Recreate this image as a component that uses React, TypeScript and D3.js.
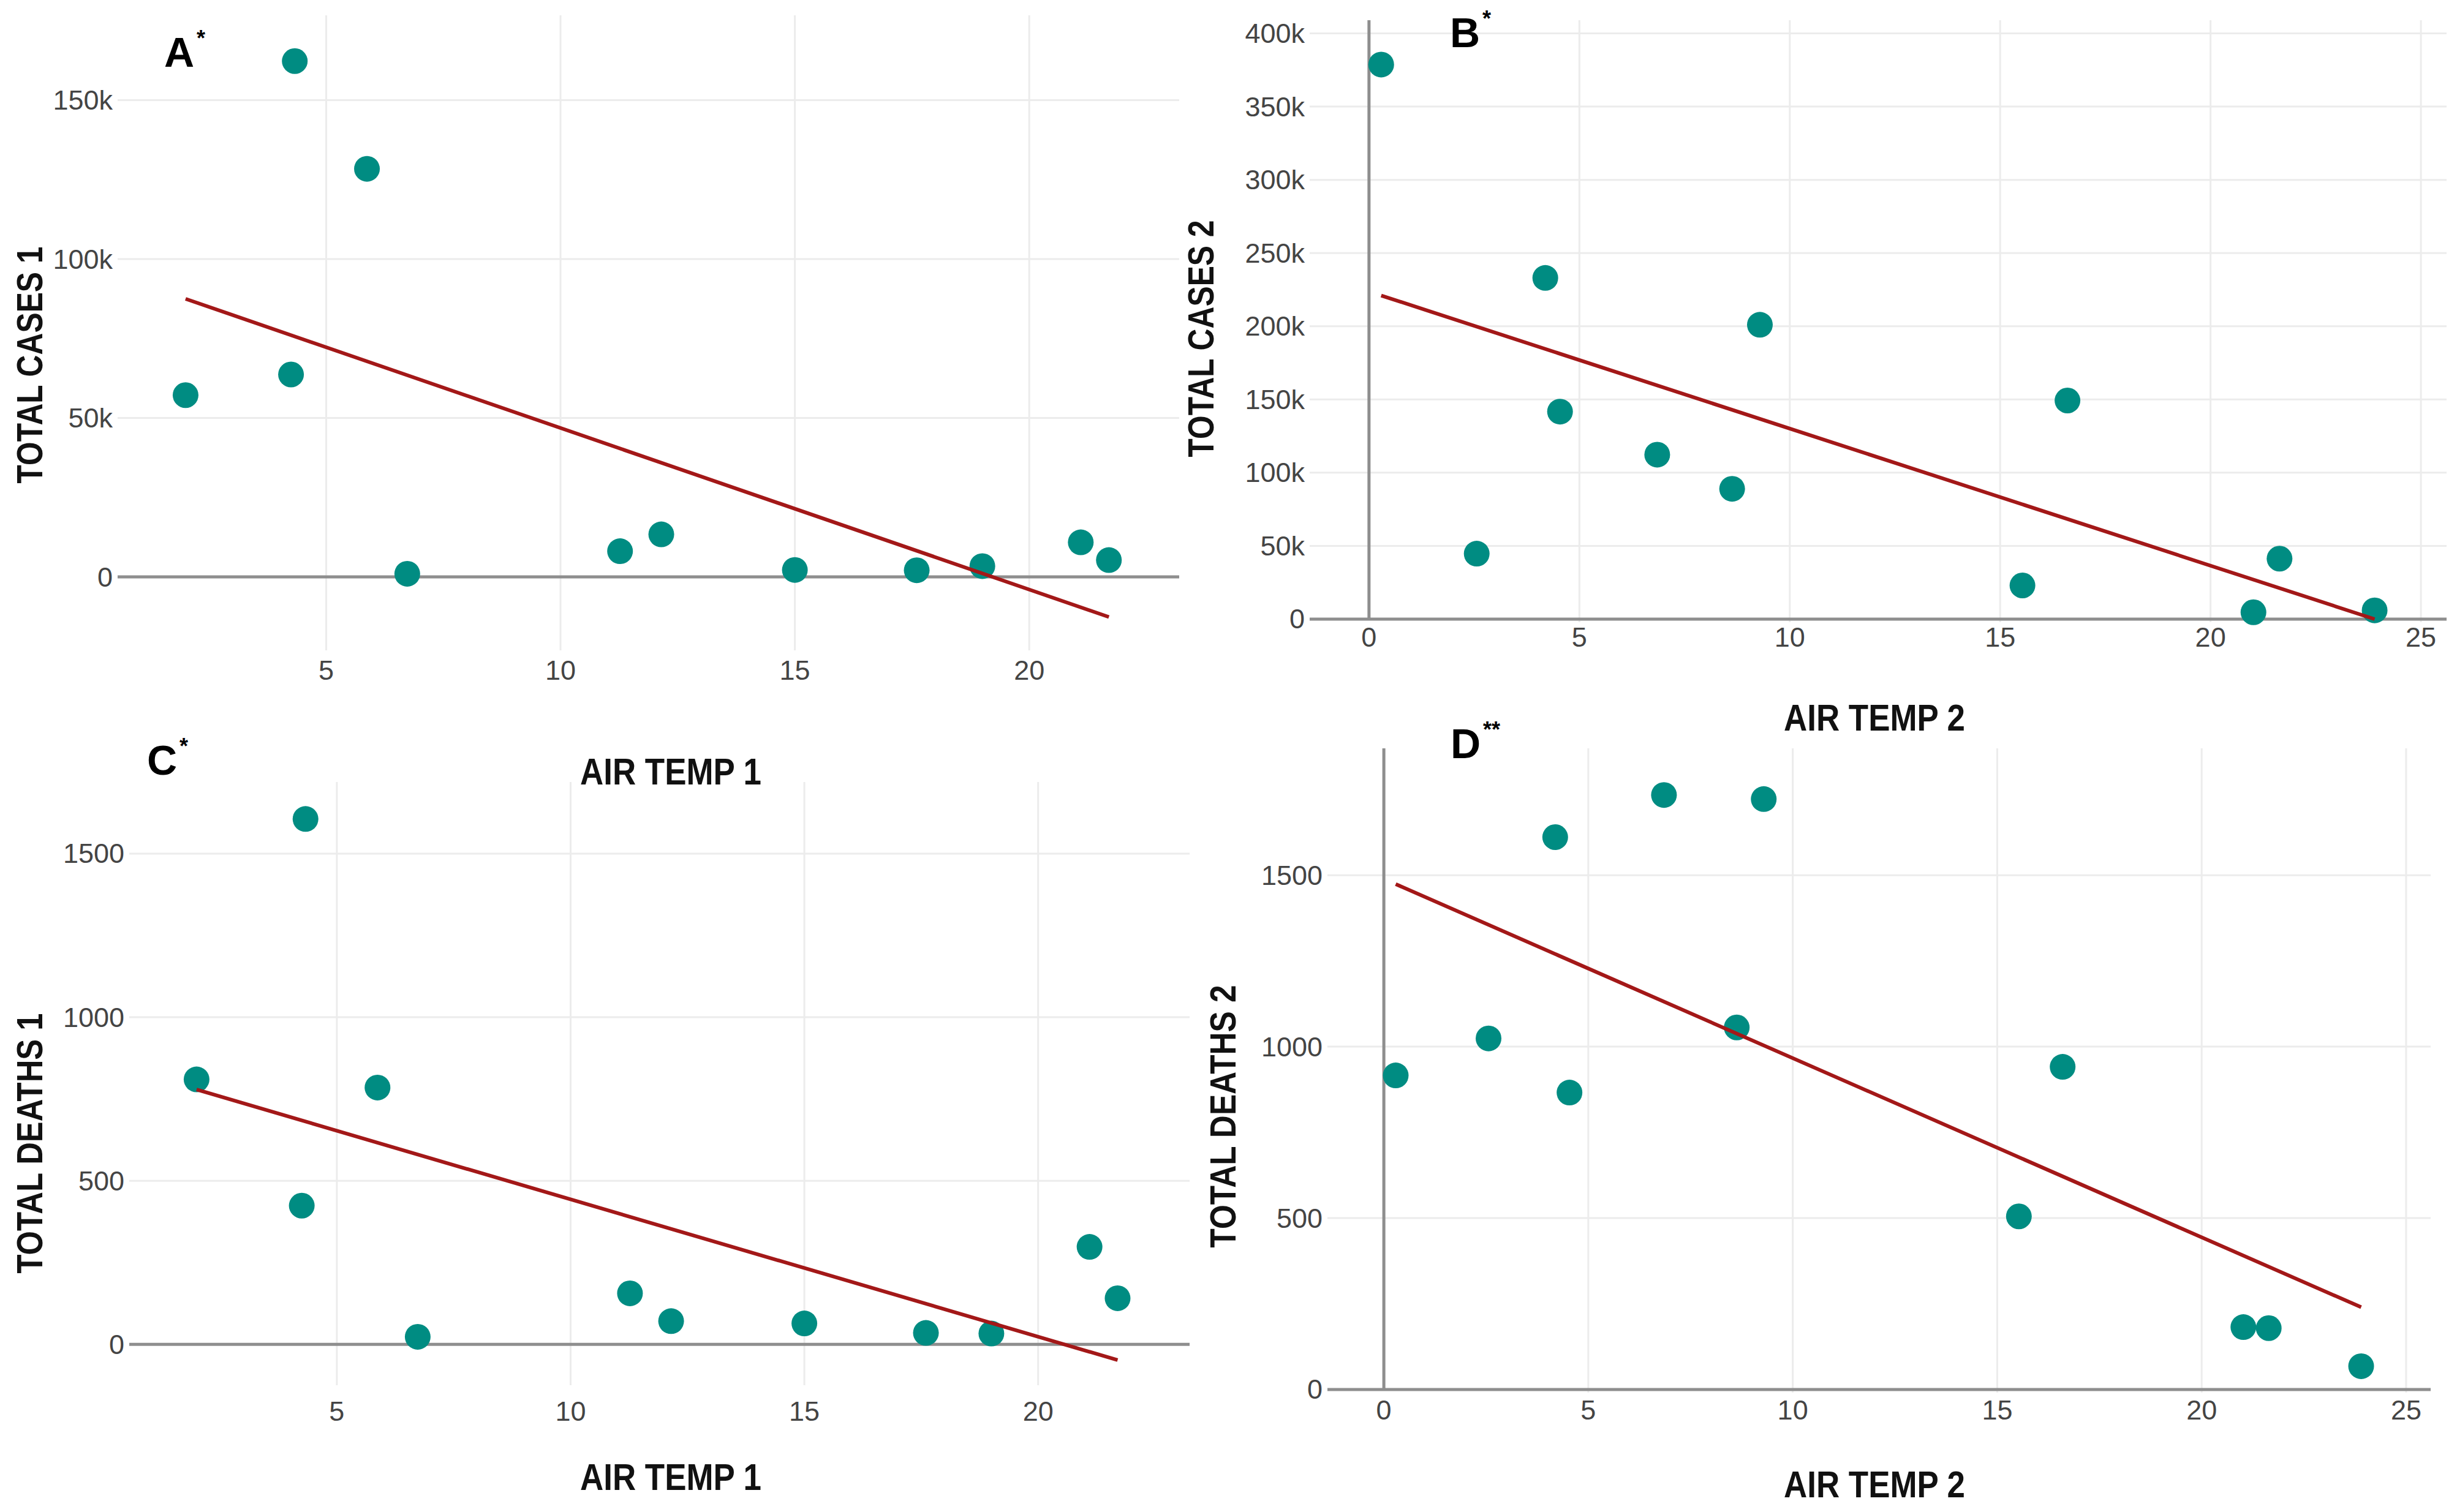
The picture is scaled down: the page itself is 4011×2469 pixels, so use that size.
import * as d3 from "d3";

// shared x values (air temperature) for the two groups
const airTemp1 = [2.0, 4.33, 4.25, 5.87, 6.73, 11.27, 12.15, 15.0, 17.6, 19.0, 21.1, 21.7];
const airTemp2 = [0.29, 2.56, 4.19, 4.54, 6.85, 8.63, 9.29, 15.53, 16.6, 21.02, 21.64, 23.9];

const totalCases1 = [57200, 162300, 63700, 128400, 1000, 8100, 13400, 2200, 2100, 3400, 10900, 5300];
const totalDeaths1 = [810, 1606, 424, 785, 23, 156, 71, 64, 35, 33, 298, 141];
const totalCases2 = [378700, 44700, 233000, 141700, 112300, 89000, 201000, 23000, 149300, 4700, 41300, 6000];
const totalDeaths2 = [916, 1024, 1611, 866, 1734, 1056, 1722, 505, 941, 182, 179, 68];

// fitted trend line end points
const trendX1 = [2.0, 21.7];
const trendX2 = [0.29, 23.9];
const trendCases1 = [87500, -12600];
const trendDeaths1 = [779, -48];
const trendCases2 = [221000, 0];
const trendDeaths2 = [1474, 240];

const xTicks1 = [5, 10, 15, 20];
const xTicks2 = [0, 5, 10, 15, 20, 25];
const yTicksCases1 = [0, 50000, 100000, 150000];
const yTicksCases2 = [0, 50000, 100000, 150000, 200000, 250000, 300000, 350000, 400000];
const yTicksDeaths = [0, 500, 1000, 1500];

const W = 4011;
const H = 2469;

const DOT = "#008c82";
const TREND = "#a31818";
const GRID = "#ececec";
const ZERO = "#8e8e8e";
const TICK = "#444";

const kFmt = d3.format("~s");
const nFmt = d3.format("d");

type Panel = {
  key: string;
  letter: string;
  stars: string;
  box: { l: number; t: number; r: number; b: number };
  xDomain: [number, number];
  yDomain: [number, number];
  xs: number[];
  ys: number[];
  tx: number[];
  ty: number[];
  xTicks: number[];
  yTicks: number[];
  fmt: (v: number) => string;
  xTickY: number;
  xTitle: string;
  xTitlePos: [number, number];
  yTitle: string;
  yTitlePos: [number, number];
  yTitleLen: number;
  letterPos: [number, number];
  yAxisLine: boolean;
};

const panels: Panel[] = [
  {
    key: "A",
    letter: "A",
    stars: "*",
    box: { l: 192, t: 25, r: 1925, b: 1062 },
    xDomain: [0.55, 23.2],
    yDomain: [-23100, 176700],
    xs: airTemp1,
    ys: totalCases1,
    tx: trendX1,
    ty: trendCases1,
    xTicks: xTicks1,
    yTicks: yTicksCases1,
    fmt: kFmt,
    xTickY: 1094,
    xTitle: "AIR TEMP 1",
    xTitlePos: [1095, 1260],
    yTitle: "TOTAL CASES 1",
    yTitlePos: [48, 596],
    yTitleLen: 387,
    letterPos: [268, 109],
    yAxisLine: false,
  },
  {
    key: "B",
    letter: "B",
    stars: "*",
    box: { l: 2138, t: 33, r: 3994, b: 1016 },
    xDomain: [-1.41, 25.61],
    yDomain: [-2100, 409000],
    xs: airTemp2,
    ys: totalCases2,
    tx: trendX2,
    ty: trendCases2,
    xTicks: xTicks2,
    yTicks: yTicksCases2,
    fmt: kFmt,
    xTickY: 1040,
    xTitle: "AIR TEMP 2",
    xTitlePos: [3060, 1172],
    yTitle: "TOTAL CASES 2",
    yTitlePos: [1960, 553],
    yTitleLen: 387,
    letterPos: [2367, 77],
    yAxisLine: true,
  },
  {
    key: "C",
    letter: "C",
    stars: "*",
    box: { l: 211, t: 1277, r: 1942, b: 2262 },
    xDomain: [0.56, 23.24],
    yDomain: [-125, 1719],
    xs: airTemp1,
    ys: totalDeaths1,
    tx: trendX1,
    ty: trendDeaths1,
    xTicks: xTicks1,
    yTicks: yTicksDeaths,
    fmt: nFmt,
    xTickY: 2304,
    xTitle: "AIR TEMP 1",
    xTitlePos: [1095, 2412],
    yTitle: "TOTAL DEATHS 1",
    yTitlePos: [48, 1867],
    yTitleLen: 425,
    letterPos: [240, 1265],
    yAxisLine: false,
  },
  {
    key: "D",
    letter: "D",
    stars: "**",
    box: { l: 2167, t: 1222, r: 3968, b: 2274 },
    xDomain: [-1.38, 25.6],
    yDomain: [-9, 1870],
    xs: airTemp2,
    ys: totalDeaths2,
    tx: trendX2,
    ty: trendDeaths2,
    xTicks: xTicks2,
    yTicks: yTicksDeaths,
    fmt: nFmt,
    xTickY: 2302,
    xTitle: "AIR TEMP 2",
    xTitlePos: [3060, 2424],
    yTitle: "TOTAL DEATHS 2",
    yTitlePos: [1996, 1823],
    yTitleLen: 429,
    letterPos: [2368, 1238],
    yAxisLine: true,
  },
];

const narrowBold = "'Liberation Sans Narrow', 'Liberation Sans', Arial, sans-serif";

function ScatterPanel({ p }: { p: Panel }) {
  const { l, t, r, b } = p.box;
  const x = d3.scaleLinear().domain(p.xDomain).range([l, r]);
  const y = d3.scaleLinear().domain(p.yDomain).range([b, t]);

  const pts = p.xs.map((v, i) => ({ x: v, y: p.ys[i] }));
  const trend = p.tx.map((v, i) => ({ x: v, y: p.ty[i] }));
  const line = d3
    .line<{ x: number; y: number }>()
    .x((d) => x(d.x))
    .y((d) => y(d.y));

  return (
    <g>
      {/* grid */}
      {p.yTicks
        .filter((v) => v !== 0)
        .map((v) => (
          <line key={"gy" + v} x1={l} x2={r} y1={y(v)} y2={y(v)} stroke={GRID} strokeWidth={3} />
        ))}
      {p.xTicks
        .filter((v) => v !== 0)
        .map((v) => (
          <line key={"gx" + v} x1={x(v)} x2={x(v)} y1={t} y2={b} stroke={GRID} strokeWidth={3} />
        ))}

      {/* zero lines */}
      <line x1={l} x2={r} y1={y(0)} y2={y(0)} stroke={ZERO} strokeWidth={5} />
      {p.yAxisLine && <line x1={x(0)} x2={x(0)} y1={t} y2={y(0)} stroke={ZERO} strokeWidth={5} />}

      {/* tick labels */}
      <g fontFamily="'Liberation Sans', Arial, sans-serif" fontSize={45} fill={TICK}>
        {p.yTicks.map((v) => (
          <text key={"ty" + v} x={l - 8} y={y(v)} textAnchor="end" dominantBaseline="central">
            {p.fmt(v)}
          </text>
        ))}
        {p.xTicks.map((v) => (
          <text key={"tx" + v} x={x(v)} y={p.xTickY} textAnchor="middle" dominantBaseline="central">
            {p.fmt(v)}
          </text>
        ))}
      </g>

      {/* points */}
      {pts.map((d, i) => (
        <circle key={i} cx={x(d.x)} cy={y(d.y)} r={21} fill={DOT} />
      ))}

      {/* trend */}
      <path d={line(trend) ?? ""} fill="none" stroke={TREND} strokeWidth={6} />

      {/* axis titles */}
      <text
        x={p.xTitlePos[0]}
        y={p.xTitlePos[1]}
        textAnchor="middle"
        dominantBaseline="central"
        fontFamily={narrowBold}
        fontWeight="bold"
        fontSize={61}
        textLength={296}
        lengthAdjust="spacingAndGlyphs"
        fill="#111"
      >
        {p.xTitle}
      </text>
      <text
        transform={`translate(${p.yTitlePos[0]},${p.yTitlePos[1]}) rotate(-90)`}
        textAnchor="middle"
        dominantBaseline="central"
        fontFamily={narrowBold}
        fontWeight="bold"
        fontSize={60}
        textLength={p.yTitleLen}
        lengthAdjust="spacingAndGlyphs"
        fill="#111"
      >
        {p.yTitle}
      </text>

      {/* panel letter */}
      <text
        x={p.letterPos[0]}
        y={p.letterPos[1]}
        fontFamily="'Liberation Sans', Arial, sans-serif"
        fontWeight="bold"
        fontSize={68}
        fill="#000"
      >
        {p.letter}
        <tspan fontSize={36} dy={-34} dx={4}>
          {p.stars}
        </tspan>
      </text>
    </g>
  );
}

export default function App() {
  return (
    <svg
      width={W}
      height={H}
      viewBox={`0 0 ${W} ${H}`}
      style={{ position: "absolute", left: 0, top: 0, background: "#fff" }}
    >
      <rect width={W} height={H} fill="#fff" />
      {panels.map((p) => (
        <ScatterPanel key={p.key} p={p} />
      ))}
    </svg>
  );
}
